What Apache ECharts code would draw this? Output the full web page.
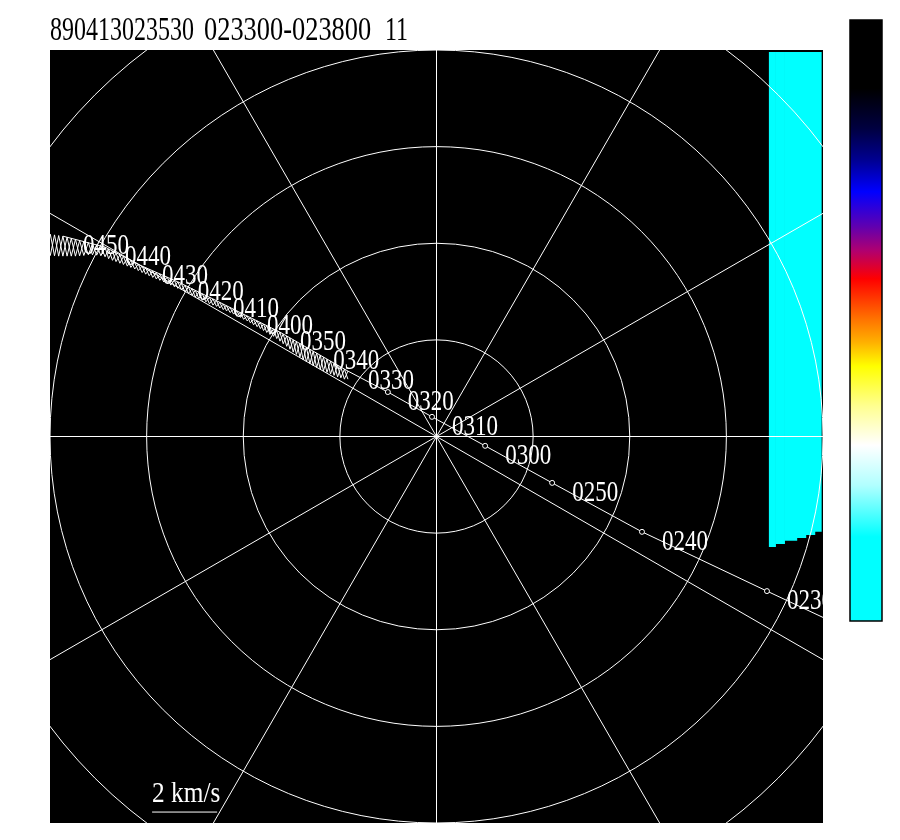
<!DOCTYPE html>
<html><head><meta charset="utf-8">
<script src="https://cdn.jsdelivr.net/npm/echarts@6/dist/echarts.min.js"></script>
<style>html,body{margin:0;padding:0;background:#fff}#c{width:900px;height:840px}</style>
</head><body><div id="c"></div>
<script>
// ---- data (km/s) ----
const titleParts = ['890413023530', '023300-023800', '11'];
const times  = ['0220','0230','0240','0250','0300','0310','0320','0330','0340','0350','0400','0410','0420','0430','0440','0450'];
const trackU = [13.9, 10.26, 6.38, 3.59, 1.51, -0.14, -1.51, -2.75, -3.83, -4.86, -5.88, -6.94, -8.03, -9.14, -10.29, -11.6];
const trackV = [-6.51, -4.80, -2.96, -1.44, -0.29, 0.61, 1.38, 2.03, 2.65, 3.24, 3.74, 4.27, 4.80, 5.29, 5.88, 6.22];
const circleCount = 7;
// one-minute samples 0330..0455 (u shared by both hatch traces)
const hatchU = [-2.75,-2.86,-2.97,-3.07,-3.18,-3.29,-3.40,-3.51,-3.61,-3.72,-3.83,-3.93,-4.04,-4.14,-4.24,-4.35,-4.45,-4.55,-4.65,-4.76,
  -4.86,-4.96,-5.06,-5.17,-5.27,-5.37,-5.47,-5.57,-5.68,-5.78,-5.88,-5.99,-6.09,-6.20,-6.30,-6.41,-6.52,-6.62,-6.73,-6.83,
  -6.94,-7.05,-7.16,-7.27,-7.38,-7.49,-7.59,-7.70,-7.81,-7.92,-8.03,-8.14,-8.25,-8.36,-8.47,-8.59,-8.70,-8.81,-8.92,-9.03,
  -9.14,-9.26,-9.37,-9.49,-9.60,-9.72,-9.83,-9.95,-10.06,-10.18,-10.29,-10.42,-10.55,-10.68,-10.81,-10.95,-11.08,-11.21,-11.34,-11.47,
  -11.60,-11.73,-11.86,-11.99,-12.12,-12.25];
const hatchV = [2.03,1.78,2.15,1.85,2.28,1.94,2.40,2.04,2.53,2.14,2.65,2.26,2.77,2.38,2.89,2.55,3.00,2.71,3.12,2.88,
  3.24,3.04,3.34,3.17,3.44,3.29,3.54,3.41,3.64,3.53,3.74,3.64,3.85,3.75,3.95,3.85,4.06,3.94,4.16,4.04,
  4.27,4.12,4.38,4.23,4.48,4.33,4.59,4.44,4.69,4.55,4.80,4.65,4.90,4.75,5.00,4.85,5.09,4.94,5.19,5.04,
  5.29,5.15,5.41,5.25,5.53,5.34,5.64,5.43,5.76,5.52,5.88,5.61,5.95,5.64,6.02,5.62,6.08,5.60,6.15,5.60,
  6.22,5.60,6.26,5.62,6.30,5.64];
const hatch2V = [1.78,2.09,1.82,2.22,1.90,2.34,1.99,2.46,2.09,2.59,2.20,2.71,2.32,2.83,2.47,2.95,2.62,3.06,2.80,3.18,
  2.96,3.29,3.11,3.39,3.23,3.49,3.35,3.59,3.47,3.69,3.59,3.79,3.70,3.90,3.80,4.01,3.90,4.11,3.99,4.22,
  4.08,4.32,4.18,4.43,4.28,4.54,4.39,4.64,4.49,4.75,4.60,4.85,4.70,4.95,4.80,5.05,4.89,5.14,4.99,5.24,
  5.09,5.35,5.20,5.47,5.29,5.59,5.38,5.70,5.47,5.82,5.58,5.91,5.63,5.98,5.64,6.05,5.61,6.12,5.60,6.19,
  5.60,6.24,5.61,6.28,5.63,6.32];
const cyanX0 = [10.32, 10.52, 10.80, 11.18, 11.46, 11.74];
const cyanX1 = [10.52, 10.80, 11.18, 11.46, 11.74, 11.94];
const cyanBottom = [-3.43, -3.34, -3.24, -3.15, -3.06, -2.96];
const cyanTop = 11.94;
const axisRange = 12;
const ringStep = 3, ringMax = 18, spokeStep = 30;
const scaleBarU = [-8.83, -6.81], scaleBarV = [-11.66, -11.66];
const scaleLabel = '2 km/s';
const colorStops = [[0,'#000000'],[0.115,'#000000'],[0.181,'#000040'],[0.233,'#000090'],[0.286,'#0000ff'],
  [0.344,'#6000b0'],[0.384,'#b00070'],[0.431,'#ff0000'],[0.496,'#ff7000'],[0.536,'#ffb000'],[0.576,'#ffff00'],
  [0.642,'#ffff90'],[0.707,'#ffffff'],[0.774,'#b0ffff'],[0.859,'#00ffff'],[1,'#00ffff']];

// ---- layout ----
const FX = 50, FY = 50, FW = 773, FH = 773;
const CX = FX + FW / 2, CY = FY + FH / 2;
const ppu = FW / (2 * axisRange);
const LABEL_FONT = '23px "Liberation Serif", "DejaVu Serif", serif';
const TITLE_FONT = '24px "Liberation Serif", "DejaVu Serif", serif';

const chart = echarts.init(document.getElementById('c'), null, {renderer: 'canvas', width: 900, height: 840});
function textStyle(t, font, fill) {
  return {text: t, fill: fill, font: font, align: 'left', verticalAlign: 'middle', textAlign: 'left', textVerticalAlign: 'middle'};
}
const option = {
  backgroundColor: '#ffffff',
  animation: false,
  grid: {left: FX, top: FY, width: FW, height: FH, show: false},
  xAxis: {type: 'value', min: -axisRange, max: axisRange, show: false},
  yAxis: {type: 'value', min: -axisRange, max: axisRange, show: false},
  polar: {center: [CX, CY], radius: ringMax * ppu},
  angleAxis: {type: 'value', min: 0, max: 360, interval: spokeStep, startAngle: 0, z: 5, silent: true,
    axisLine: {show: false}, axisTick: {show: false}, axisLabel: {show: false},
    splitLine: {show: true, lineStyle: {color: '#ffffff', width: 1}}},
  radiusAxis: {type: 'value', min: 0, max: ringMax, interval: ringStep, z: 5, silent: true,
    axisLine: {show: false}, axisTick: {show: false}, axisLabel: {show: false},
    splitLine: {show: true, lineStyle: {color: '#ffffff', width: 1}}},
  series: [
    {
      type: 'custom', name: 'cyan', z: 1, silent: true,
      data: cyanX0.map((x0, i) => [x0, cyanX1[i], cyanBottom[i]]),
      encode: {x: [0, 1], y: 2},
      renderItem: function (params, api) {
        const p0 = api.coord([api.value(0), cyanTop]);
        const p1 = api.coord([api.value(1), api.value(2)]);
        return {type: 'rect', shape: {x: p0[0], y: p0[1], width: p1[0] - p0[0] + 0.6, height: p1[1] - p0[1]},
          style: {fill: '#00ffff'}};
      }
    },
    {
      type: 'line', name: 'track', z: 6, silent: true, clip: true,
      data: trackU.map((u, i) => ({value: [u, trackV[i]], symbol: i < circleCount ? 'circle' : 'none'})),
      symbolSize: 5,
      lineStyle: {color: '#ffffff', width: 1},
      itemStyle: {color: '#000000', borderColor: '#ffffff', borderWidth: 1},
      emphasis: {disabled: true}
    },
    {
      type: 'line', name: 'hatch', z: 6, silent: true, clip: true,
      data: hatchU.map((u, i) => [u, hatchV[i]]),
      symbol: 'none',
      lineStyle: {color: '#ffffff', width: 1},
      emphasis: {disabled: true}
    },
    {
      type: 'line', name: 'hatch2', z: 6, silent: true, clip: true,
      data: hatchU.map((u, i) => [u, hatch2V[i]]),
      symbol: 'none',
      lineStyle: {color: '#ffffff', width: 1},
      emphasis: {disabled: true}
    },
    {
      type: 'custom', name: 'labels', z: 7, silent: true,
      data: trackU.map((u, i) => [u, trackV[i]]),
      renderItem: function (params, api) {
        const p = api.coord([api.value(0), api.value(1)]);
        return {type: 'text', x: p[0] + 20, y: p[1] + 10, scaleY: 1.3,
          style: textStyle(times[params.dataIndex], LABEL_FONT, '#ffffff')};
      }
    },
    {
      type: 'line', name: 'scalebar', z: 6, silent: true,
      data: scaleBarU.map((u, i) => [u, scaleBarV[i]]),
      symbol: 'none', lineStyle: {color: '#ffffff', width: 1},
      emphasis: {disabled: true}
    },
    {
      type: 'custom', name: 'scaletext', z: 7, silent: true,
      data: [[scaleBarU[0], scaleBarV[0]]],
      renderItem: function (params, api) {
        const p = api.coord([api.value(0), api.value(1)]);
        return {type: 'text', x: p[0], y: p[1] - 18, scaleY: 1.3, scaleX: 1.1,
          style: textStyle(scaleLabel, LABEL_FONT, '#ffffff')};
      }
    }
  ],
  graphic: [
    {type: 'rect', z: -10, silent: true, shape: {x: FX, y: FY, width: FW, height: FH}, style: {fill: '#000000'}},
    {type: 'rect', z: 50, silent: true, shape: {x: 0, y: 0, width: 900, height: FY}, style: {fill: '#ffffff'}},
    {type: 'rect', z: 50, silent: true, shape: {x: 0, y: 0, width: FX, height: 840}, style: {fill: '#ffffff'}},
    {type: 'rect', z: 50, silent: true, shape: {x: FX + FW, y: 0, width: 900 - FX - FW, height: 840}, style: {fill: '#ffffff'}},
    {type: 'rect', z: 50, silent: true, shape: {x: 0, y: FY + FH, width: 900, height: 840 - FY - FH}, style: {fill: '#ffffff'}},
    {type: 'rect', z: 60, silent: true, shape: {x: 850, y: 20, width: 32, height: 601},
      style: {fill: {type: 'linear', x: 0, y: 0, x2: 0, y2: 1, colorStops: colorStops.map(s => ({offset: s[0], color: s[1]}))},
        stroke: '#000000', lineWidth: 1.5}},
    {type: 'text', z: 60, silent: true, x: 50, y: 31.5, scaleY: 1.42, style: textStyle(titleParts[0], TITLE_FONT, '#000000')},
    {type: 'text', z: 60, silent: true, x: 204, y: 31.5, scaleY: 1.42, scaleX: 1.1, style: textStyle(titleParts[1], TITLE_FONT, '#000000')},
    {type: 'text', z: 60, silent: true, x: 385, y: 31.5, scaleY: 1.42, style: textStyle(titleParts[2], TITLE_FONT, '#000000')}
  ]
};
chart.setOption(option);
</script>
</body></html>
